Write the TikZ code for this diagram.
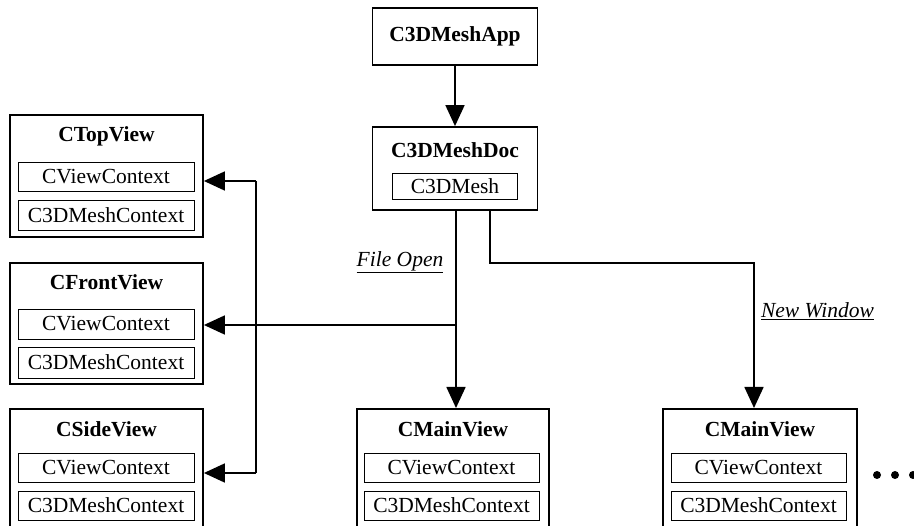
\documentclass[tikz,border=0pt]{standalone}
\usepackage{fontspec}
\setmainfont{Liberation Serif}
\usetikzlibrary{arrows.meta}
\begin{document}
\begin{tikzpicture}[x=1pt,y=-1pt,
  every node/.style={font=\fontsize{21.5}{25}\selectfont},
  outer/.style={draw, line width=1.8pt, inner sep=0pt},
  inner/.style={draw, line width=0.9pt, inner sep=0pt, minimum height=29pt},
  ttl/.style={font=\fontsize{21.5}{25}\selectfont\bfseries, inner sep=0pt},
  lbl/.style={font=\fontsize{21.5}{25}\selectfont\itshape, inner sep=0pt},
  conn/.style={line width=1.7pt},
  arr/.style={conn, -{Triangle[length=21pt,width=19pt]}},
]
\clip (0,0) rectangle (914,526);
\fill[white] (0,0) rectangle (914,526);

% top
\node[outer, minimum width=165pt, minimum height=57pt] (app) at (455,36.5) {};
\node[ttl] (appt) at (455,36.5) {C3DMeshApp};
\node[outer, minimum width=165pt, minimum height=83pt] (doc) at (455,168.5) {};
\node[ttl] (doct) at (455,150) {C3DMeshDoc};
\node[inner, minimum width=125pt, minimum height=26pt] (mesh) at (455,186) {C3DMesh};

% left column
\node[outer, minimum width=193pt, minimum height=122pt] (topv) at (106.5,176) {};
\node[ttl] (topt) at (106.5,136) {CTopView};
\node[inner, minimum width=176pt] (tctx) at (106,176.5) {CViewContext};
\node[inner, minimum width=176pt, minimum height=30pt] (tmsh) at (106,215) {C3DMeshContext};

\node[outer, minimum width=193pt, minimum height=121pt] (frontv) at (106.5,323.5) {};
\node[ttl] (frontt) at (106.5,282) {CFrontView};
\node[inner, minimum width=176pt, minimum height=30pt] (fctx) at (106,324) {CViewContext};
\node[inner, minimum width=176pt, minimum height=31pt] (fmsh) at (106,362.5) {C3DMeshContext};

\node[outer, minimum width=193pt, minimum height=130pt, anchor=north] (sidev) at (106.5,408) {};
\node[ttl] (sidet) at (106.5,429) {CSideView};
\node[inner, minimum width=176pt] (sctx) at (106,468) {CViewContext};
\node[inner, minimum width=176pt] (smsh) at (106,505.5) {C3DMeshContext};

% main views
\node[outer, minimum width=192pt, minimum height=130pt, anchor=north] (mainA) at (453,408) {};
\node[ttl] (mainAt) at (453,429) {CMainView};
\node[inner, minimum width=175pt] (actx) at (451.5,467.5) {CViewContext};
\node[inner, minimum width=175pt] (amsh) at (451.5,505.5) {C3DMeshContext};

\node[outer, minimum width=194pt, minimum height=130pt, anchor=north] (mainB) at (760,408) {};
\node[ttl] (mainBt) at (760,429) {CMainView};
\node[inner, minimum width=175pt] (bctx) at (758.5,467.5) {CViewContext};
\node[inner, minimum width=175pt] (bmsh) at (758.5,505.5) {C3DMeshContext};

% connectors
\draw[arr] (app) -- (doc);

\coordinate (d1) at (456,210);
\coordinate (j1) at (456,325);
\draw[arr] (d1) -- (d1 |- mainA.north);
\draw[arr] (j1) -- (frontv.east |- j1);

\coordinate (bt) at (256,181);
\coordinate (bb) at (256,473);
\draw[conn] (bt) -- (bb);
\draw[arr] (bt) -- (topv.east |- bt);
\draw[arr] (bb) -- (sidev.east |- bb);

\coordinate (d2) at (490,210);
\coordinate (k2) at (754,263);
\draw[arr] (d2) |- (k2) -- (k2 |- mainB.north);

% labels
\node[lbl] (fo) at (400,262) {\underline{File Open}};
\node[lbl] (nw) at (817.5,311) {\underline{New Window}};

% dots
\fill (877,475) circle (4);
\fill (895,475) circle (4);
\fill (913,475) circle (4);
\end{tikzpicture}
\end{document}
